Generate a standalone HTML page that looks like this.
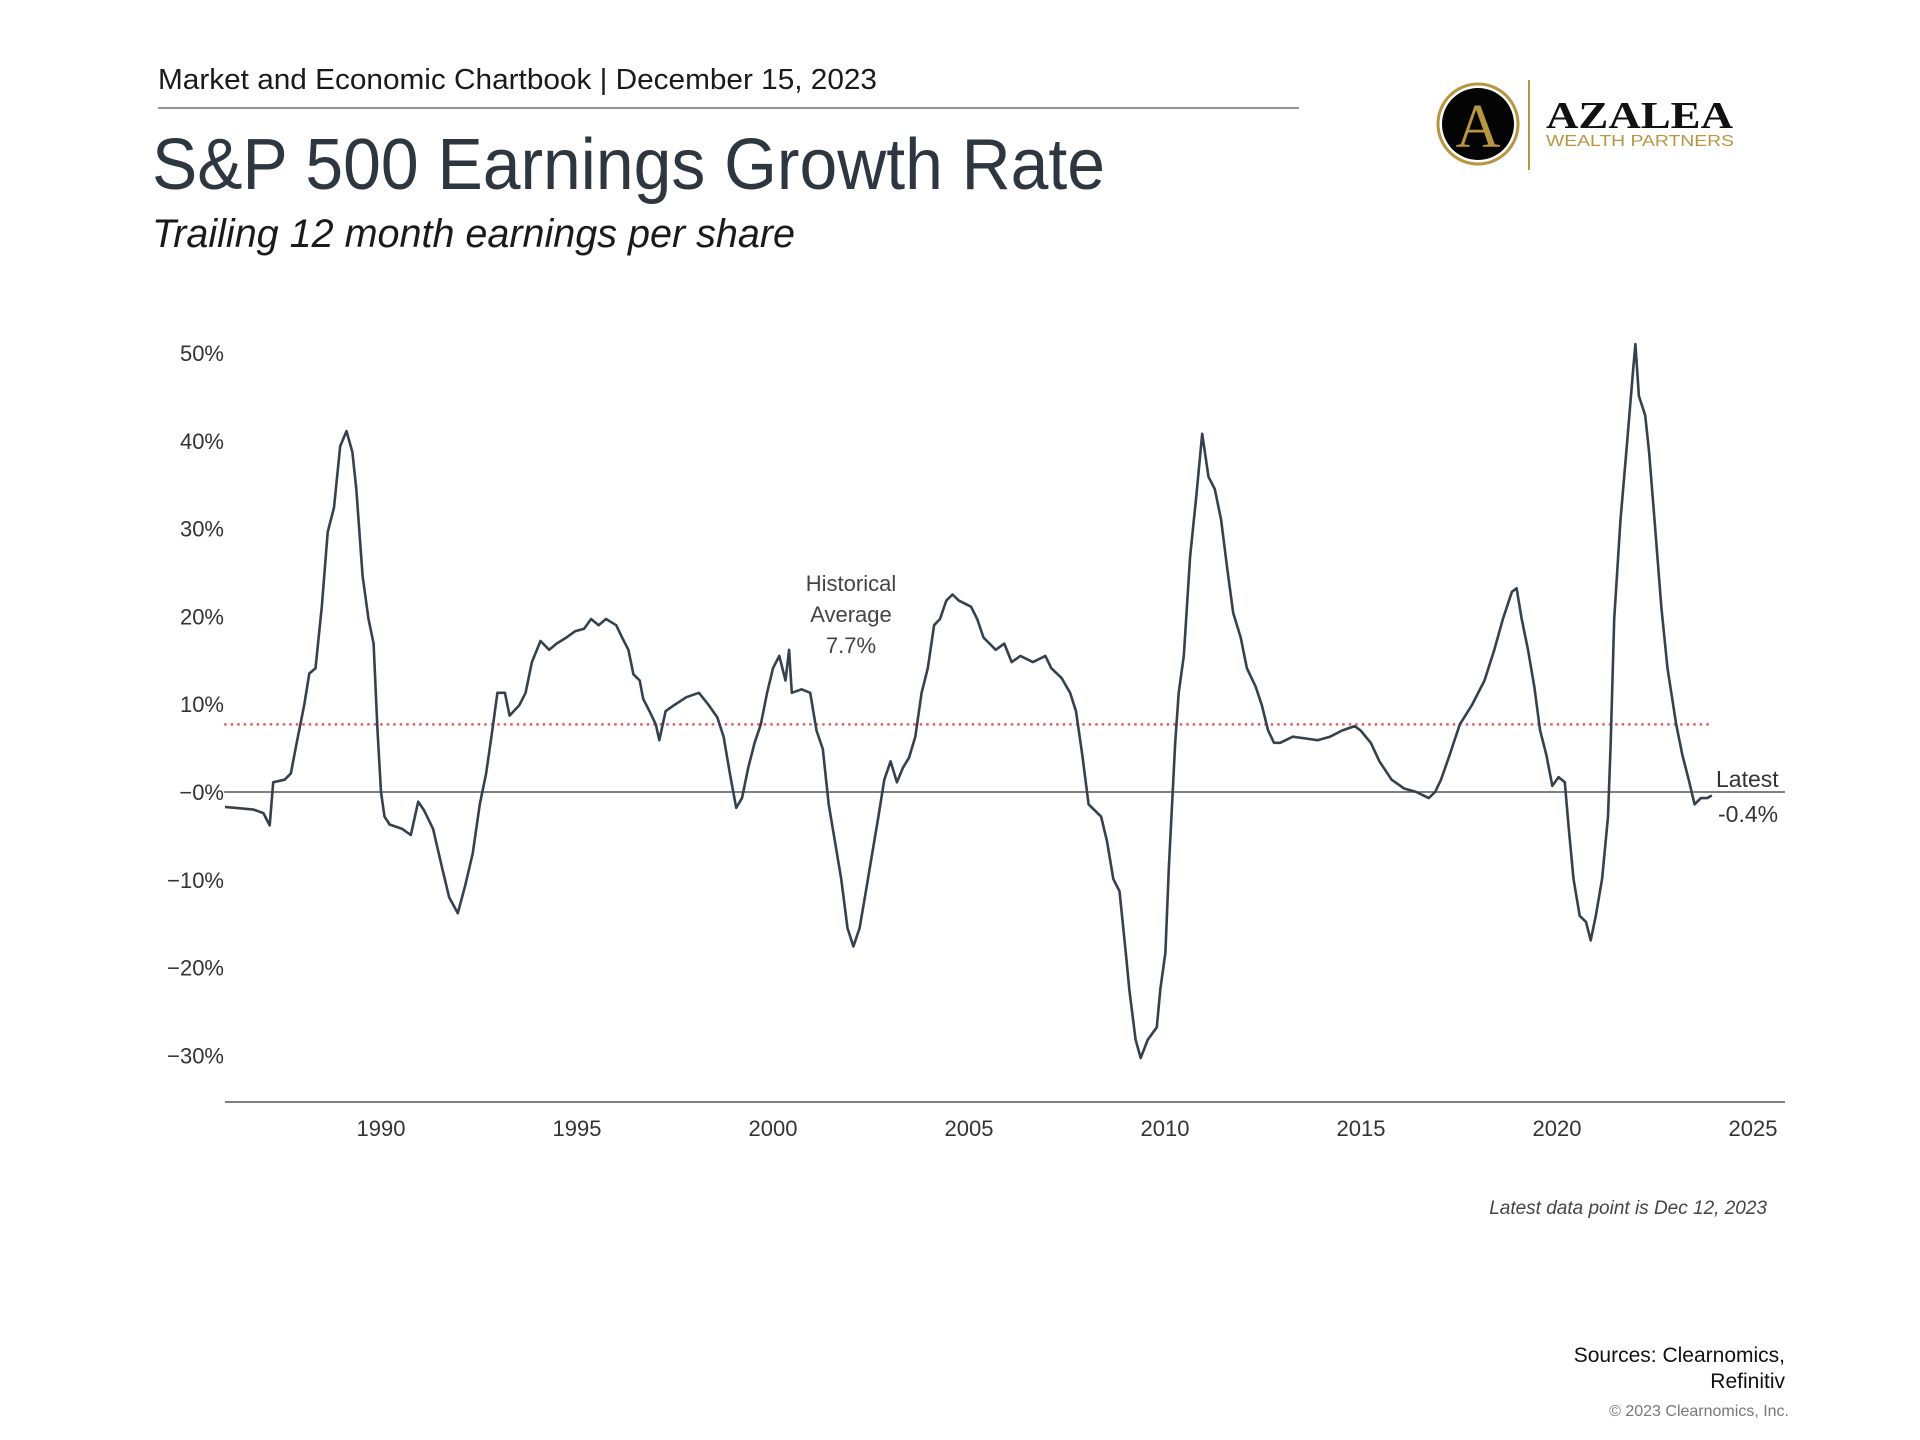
<!DOCTYPE html>
<html><head><meta charset="utf-8"><style>
html,body{margin:0;padding:0;background:#fff;}
svg{display:block;font-family:"Liberation Sans",sans-serif;}
</style></head><body>
<svg id="chart" width="1920" height="1440" viewBox="0 0 1920 1440" xmlns="http://www.w3.org/2000/svg">
<text x="158" y="89" font-size="29" fill="#1a1a1a" textLength="719" lengthAdjust="spacingAndGlyphs">Market and Economic Chartbook | December 15, 2023</text>
<line x1="158" y1="108" x2="1299" y2="108" stroke="#555" stroke-width="1.3"/>
<text x="152" y="189" font-size="72" fill="#2e3640" textLength="953" lengthAdjust="spacingAndGlyphs">S&amp;P 500 Earnings Growth Rate</text>
<text x="152" y="247" font-size="40" font-style="italic" fill="#1a1a1a" textLength="643" lengthAdjust="spacingAndGlyphs">Trailing 12 month earnings per share</text>
<g>
<circle cx="1478" cy="124" r="40" fill="#fff" stroke="#b8953f" stroke-width="3"/>
<circle cx="1478" cy="124" r="36" fill="#050505"/>
<text x="1478" y="147" font-size="62" text-anchor="middle" fill="#b8953f" font-family="Liberation Serif,serif">A</text>
<line x1="1529" y1="80" x2="1529" y2="170" stroke="#b8953f" stroke-width="2"/>
<text x="1546" y="128" font-size="38" font-weight="bold" fill="#111" font-family="Liberation Serif,serif" textLength="187" lengthAdjust="spacingAndGlyphs">AZALEA</text>
<text x="1546" y="146" font-size="16" fill="#b8953f" textLength="188" lengthAdjust="spacingAndGlyphs">WEALTH PARTNERS</text>
</g>
<g id="yticks"></g><g id="xticks"></g>
<line x1="225" y1="1102" x2="1785" y2="1102" stroke="#555" stroke-width="1.5"/>
<line id="zero" stroke="#555" stroke-width="1.5"/>
<line id="avg" stroke="#d9534f" stroke-width="2.2" stroke-dasharray="2.5,4"/>
<path id="series" fill="none" stroke="#35414d" stroke-width="2.6" stroke-linejoin="round"/>
<g font-size="22" fill="#444" text-anchor="middle">
<text x="851" y="591">Historical</text><text x="851" y="622">Average</text><text x="851" y="653">7.7%</text>
</g>
<text x="1716" y="787" font-size="23" fill="#333">Latest</text>
<text x="1718" y="822" font-size="23" fill="#333">-0.4%</text>
<text x="1767" y="1214" font-size="19" font-style="italic" fill="#444" text-anchor="end">Latest data point is Dec 12, 2023</text>
<text x="1785" y="1362" font-size="21" fill="#111" text-anchor="end">Sources: Clearnomics,</text>
<text x="1785" y="1388" font-size="21" fill="#111" text-anchor="end">Refinitiv</text>
<text x="1789" y="1416" font-size="16" fill="#777" text-anchor="end">© 2023 Clearnomics, Inc.</text>
</svg>
<script>
const years=[1986.02,1986.75,1987.00,1987.16,1987.25,1987.54,1987.70,1987.85,1988.04,1988.17,1988.33,1988.49,1988.64,1988.80,1988.96,1989.12,1989.27,1989.37,1989.53,1989.68,1989.81,1989.91,1990.00,1990.09,1990.22,1990.54,1990.76,1990.95,1991.10,1991.33,1991.55,1991.74,1991.96,1992.15,1992.34,1992.52,1992.68,1992.84,1992.97,1993.16,1993.28,1993.53,1993.69,1993.85,1994.07,1994.29,1994.48,1994.73,1994.95,1995.18,1995.36,1995.55,1995.74,1996.00,1996.15,1996.31,1996.44,1996.60,1996.69,1996.85,1997.01,1997.10,1997.26,1997.48,1997.79,1998.11,1998.36,1998.58,1998.74,1998.90,1999.06,1999.21,1999.37,1999.53,1999.69,1999.85,2000.00,2000.16,2000.32,2000.41,2000.48,2000.73,2000.95,2001.11,2001.27,2001.42,2001.58,2001.74,2001.90,2002.05,2002.21,2002.37,2002.53,2002.69,2002.84,2003.00,2003.16,2003.32,2003.47,2003.63,2003.79,2003.95,2004.11,2004.26,2004.42,2004.58,2004.74,2005.05,2005.21,2005.37,2005.68,2005.90,2006.09,2006.31,2006.63,2006.95,2007.10,2007.36,2007.58,2007.73,2007.89,2008.05,2008.21,2008.37,2008.52,2008.68,2008.84,2009.00,2009.09,2009.25,2009.38,2009.56,2009.79,2009.88,2010.01,2010.10,2010.26,2010.35,2010.48,2010.64,2010.80,2010.95,2011.11,2011.27,2011.43,2011.59,2011.74,2011.93,2012.09,2012.31,2012.47,2012.63,2012.78,2012.94,2013.26,2013.57,2013.89,2014.21,2014.52,2014.84,2014.99,2015.25,2015.47,2015.78,2016.10,2016.41,2016.73,2016.89,2017.04,2017.26,2017.52,2017.83,2018.15,2018.40,2018.62,2018.85,2018.97,2019.10,2019.26,2019.42,2019.57,2019.73,2019.88,2020.04,2020.20,2020.30,2020.42,2020.58,2020.74,2020.86,2020.99,2021.15,2021.30,2021.37,2021.46,2021.62,2021.78,2021.94,2022.00,2022.09,2022.25,2022.35,2022.50,2022.66,2022.82,2023.04,2023.20,2023.36,2023.51,2023.67,2023.83,2023.95];
const growth=[-1.7,-2.0,-2.4,-3.8,1.1,1.4,2.1,5.6,9.9,13.5,14.1,21.1,29.6,32.4,39.4,41.1,38.7,34.5,24.6,19.7,16.9,7.0,0.0,-2.8,-3.7,-4.2,-4.9,-1.1,-2.1,-4.2,-8.5,-12.0,-13.8,-10.6,-7.0,-1.4,2.1,7.0,11.3,11.3,8.7,9.9,11.3,14.8,17.2,16.2,16.9,17.6,18.3,18.6,19.7,19.0,19.7,19.0,17.6,16.2,13.4,12.7,10.6,9.2,7.7,5.9,9.2,9.9,10.8,11.3,9.9,8.5,6.3,2.1,-1.8,-0.7,2.8,5.6,7.7,11.3,14.1,15.5,12.7,16.2,11.3,11.7,11.3,7.0,4.9,-1.4,-5.6,-9.9,-15.5,-17.6,-15.5,-11.3,-7.0,-2.8,1.4,3.5,1.1,2.8,3.9,6.3,11.3,14.1,19.0,19.7,21.8,22.5,21.8,21.1,19.7,17.6,16.2,16.9,14.8,15.5,14.8,15.5,14.1,13.0,11.3,9.2,4.2,-1.4,-2.1,-2.8,-5.6,-9.9,-11.3,-18.3,-22.5,-28.2,-30.3,-28.2,-26.8,-22.5,-18.3,-8.5,5.6,11.3,15.5,26.8,33.8,40.8,35.9,34.5,31.0,25.4,20.4,17.6,14.1,12.0,9.9,7.0,5.6,5.6,6.3,6.1,5.9,6.3,7.0,7.5,7.0,5.6,3.5,1.4,0.4,0.0,-0.7,0.0,1.4,4.2,7.7,9.9,12.7,16.2,19.7,22.8,23.2,19.7,16.2,12.0,7.0,4.2,0.7,1.7,1.1,-4.2,-9.9,-14.1,-14.8,-16.9,-14.1,-9.9,-2.8,5.6,19.7,31.0,39.4,47.9,51.0,45.1,42.9,38.7,30.3,21.1,14.1,7.7,4.2,1.4,-1.4,-0.7,-0.7,-0.4];
const yTickValues=[50,40,30,20,10,0,-10,-20,-30];
const yTickLabels=["50%","40%","30%","20%","10%","\u22120%","\u221210%","\u221220%","\u221230%"];
const xTickYears=[1990,1995,2000,2005,2010,2015,2020,2025];
const historicalAverage=[7.7];
const xStart=[1986.0];
const avgEnd=[2023.95];

function xScale(y){return 381+(y-1990)*39.2;}
function yScale(v){return 792-v*8.78;}
const NS="http://www.w3.org/2000/svg";
const yt=document.getElementById('yticks');
yTickValues.forEach((v,i)=>{
  const t=document.createElementNS(NS,'text');
  
  
  t.setAttribute('x',224);t.setAttribute('y',yScale(v)+8);
  t.setAttribute('text-anchor','end');t.setAttribute('font-size','22');t.setAttribute('fill','#333');
  t.textContent=yTickLabels[i];yt.appendChild(t);
});
const xt=document.getElementById('xticks');
xTickYears.forEach(yr=>{
  const t=document.createElementNS(NS,'text');
  
  
  t.setAttribute('x',xScale(yr));t.setAttribute('y',1136);
  t.setAttribute('text-anchor','middle');t.setAttribute('font-size','22');t.setAttribute('fill','#333');
  t.textContent=yr;xt.appendChild(t);
});
const z=document.getElementById('zero');
z.setAttribute('x1',xScale(xStart[0]));z.setAttribute('x2',1785);z.setAttribute('y1',yScale(0));z.setAttribute('y2',yScale(0));
const a=document.getElementById('avg');
a.setAttribute('x1',xScale(xStart[0]));a.setAttribute('x2',xScale(avgEnd[0]));a.setAttribute('y1',yScale(historicalAverage[0]));a.setAttribute('y2',yScale(historicalAverage[0]));
let d='';
years.forEach((yr,i)=>{d+=(i?'L':'M')+xScale(yr).toFixed(1)+','+yScale(growth[i]).toFixed(1);});
document.getElementById('series').setAttribute('d',d);
</script>
</body></html>
